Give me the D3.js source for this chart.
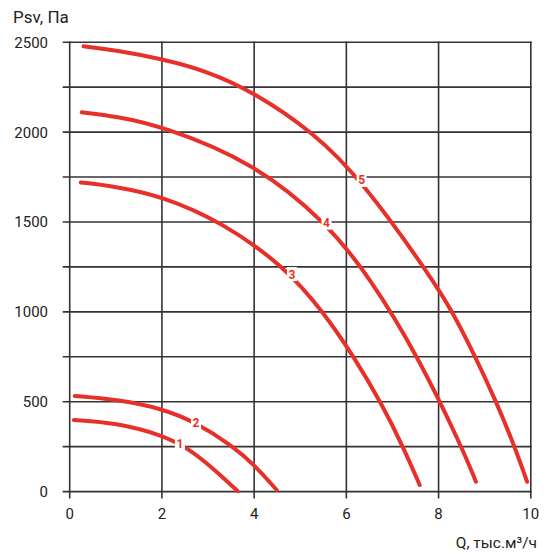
<!DOCTYPE html>
<html>
<head>
<meta charset="utf-8">
<script src="https://cdn.jsdelivr.net/npm/d3@7"></script>
<style>
  body { margin: 0; background: #fff; }
  svg { font-family: Roboto, "Liberation Sans", sans-serif; }
</style>
</head>
<body>
<svg></svg>
<script>
let width = 552, height = 554;

// curve data: [Q, Psv]
let curve1 = [[0.09, 398], [1, 383], [2, 315], [2.57, 241], [3.11, 130], [3.64, 3]];
let curve2 = [[0.11, 532], [1, 513], [2, 463], [2.74, 385], [3.55, 250], [4, 150], [4.49, 9]];
let curve3 = [[0.24, 1720], [1, 1697], [2, 1644], [3.3, 1500], [4.67, 1250], [5.5, 1000], [6.15, 755], [6.76, 492], [7.23, 250], [7.59, 37]];
let curve4 = [[0.26, 2110], [1, 2088], [2, 2034], [4, 1830], [5.57, 1496], [6.5, 1195], [7.56, 750], [8.5, 250], [8.81, 55]];
let curve5 = [[0.3, 2477], [1, 2455], [2, 2407], [3, 2338], [4, 2221], [5.28, 2000], [6.33, 1734], [7.88, 1178], [8.3, 1000], [8.78, 760], [9.25, 500], [9.65, 250], [9.92, 55]];

let curves = [curve1, curve2, curve3, curve4, curve5];
let curveNames = ["1", "2", "3", "4", "5"];
// label positions on each curve [Q, Psv]
let labelPos = [[2.39, 270], [2.74, 385], [4.82, 1210], [5.57, 1496], [6.33, 1734]];

let xTicks = [0, 2, 4, 6, 8, 10];
let yGrid = [0, 250, 500, 750, 1000, 1250, 1500, 1750, 2000, 2250, 2500];
let yLabels = [0, 500, 1000, 1500, 2000, 2500];

let svg = d3.select("svg")
    .attr("width", width)
    .attr("height", height);

let x = d3.scaleLinear().domain([0, 10]).range([69.7, 530.8]);
let y = d3.scaleLinear().domain([0, 2500]).range([491.6, 42.2]);

let red = "#e8302a";
let gridColor = "#333";

// grid
let grid = svg.append("g");
grid.selectAll(".hline")
    .data(yGrid)
    .enter().append("line")
    .attr("x1", x(0) - 7).attr("x2", x(10) + 0.8)
    .attr("y1", d => y(d)).attr("y2", d => y(d))
    .attr("stroke", gridColor)
    .attr("stroke-width", 1.6);

grid.selectAll(".vline")
    .data(xTicks)
    .enter().append("line")
    .attr("x1", d => x(d)).attr("x2", d => x(d))
    .attr("y1", y(2500) - 0.8).attr("y2", y(0) + 7)
    .attr("stroke", gridColor)
    .attr("stroke-width", 1.6);

// tick labels
svg.append("g").selectAll("text")
    .data(yLabels)
    .enter().append("text")
    .attr("x", 48)
    .attr("y", d => y(d) + 5.5)
    .attr("text-anchor", "end")
    .attr("font-size", 15)
    .attr("fill", "#222")
    .text(d => d);

svg.append("g").selectAll("text")
    .data(xTicks)
    .enter().append("text")
    .attr("x", d => x(d))
    .attr("y", 519)
    .attr("text-anchor", "middle")
    .attr("font-size", 15)
    .attr("fill", "#222")
    .text(d => d);

// axis titles
svg.append("text")
    .attr("x", 13).attr("y", 22.5)
    .attr("font-size", 17)
    .attr("fill", "#222")
    .text("Psv, Па");

svg.append("text")
    .attr("x", 537).attr("y", 548)
    .attr("text-anchor", "end")
    .attr("font-size", 15.5)
    .attr("fill", "#222")
    .text("Q, тыс.м³/ч");

// curves
let line = d3.line()
    .x(d => x(d[0]))
    .y(d => y(d[1]))
    .curve(d3.curveBasis);

svg.append("g").selectAll("path")
    .data(curves)
    .enter().append("path")
    .attr("d", line)
    .attr("fill", "none")
    .attr("stroke", red)
    .attr("stroke-width", 4)
    .attr("stroke-linecap", "round");

// curve labels
let labels = svg.append("g").selectAll("g")
    .data(labelPos)
    .enter().append("g")
    .attr("transform", d => "translate(" + x(d[0]) + "," + y(d[1]) + ")");

labels.append("rect")
    .attr("x", -5).attr("y", -7)
    .attr("width", 10).attr("height", 14)
    .attr("fill", "#fff");

labels.append("text")
    .attr("text-anchor", "middle")
    .attr("y", 4.5)
    .attr("font-size", 12)
    .attr("font-weight", "bold")
    .attr("fill", red)
    .text((d, i) => curveNames[i]);
</script>
</body>
</html>
